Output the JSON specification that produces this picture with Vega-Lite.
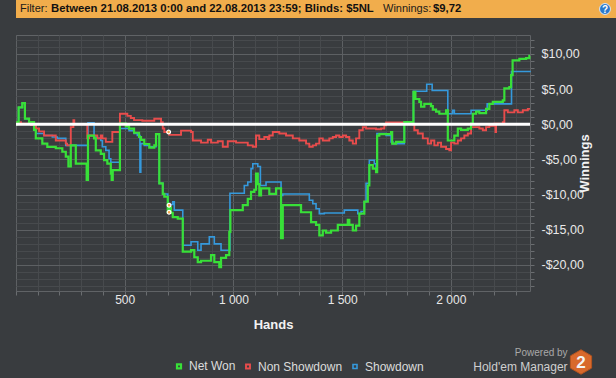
{
  "$schema": "https://vega.github.io/schema/vega-lite/v6.json",
  "background": "#393c3f",
  "padding": {"left": 0, "top": 0, "right": 0, "bottom": 8},
  "config": {
    "font": "Liberation Sans",
    "view": {"stroke": "#606366", "strokeWidth": 1},
    "axis": {"labelOverlap": false}
  },
  "datasets": {
    "hands": [
      {"h":0,"v":0,"s":"Showdown"},{"h":6,"v":0.3,"s":"Showdown"},{"h":12,"v":2.4,"s":"Showdown"},{"h":29,"v":3.0,"s":"Showdown"},{"h":41,"v":0.8,"s":"Showdown"},{"h":60,"v":0.3,"s":"Showdown"},{"h":83,"v":-0.4,"s":"Showdown"},{"h":91,"v":-1.3,"s":"Showdown"},{"h":129,"v":-1.6,"s":"Showdown"},{"h":167,"v":-1.8,"s":"Showdown"},{"h":190,"v":-2.0,"s":"Showdown"},{"h":229,"v":-3.0,"s":"Showdown"},{"h":331,"v":0.2,"s":"Showdown"},{"h":359,"v":-1.8,"s":"Showdown"},{"h":374,"v":-2.0,"s":"Showdown"},{"h":390,"v":-2.3,"s":"Showdown"},{"h":397,"v":-3.2,"s":"Showdown"},{"h":413,"v":-3.7,"s":"Showdown"},{"h":428,"v":-4.9,"s":"Showdown"},{"h":436,"v":-5.4,"s":"Showdown"},{"h":478,"v":-0.6,"s":"Showdown"},{"h":520,"v":-0.9,"s":"Showdown"},{"h":543,"v":-1.3,"s":"Showdown"},{"h":558,"v":-1.6,"s":"Showdown"},{"h":570,"v":-6.8,"s":"Showdown"},{"h":574,"v":-2.75,"s":"Showdown"},{"h":590,"v":-3.0,"s":"Showdown"},{"h":613,"v":-3.2,"s":"Showdown"},{"h":644,"v":-1.4,"s":"Showdown"},{"h":659,"v":-8.4,"s":"Showdown"},{"h":675,"v":-9.9,"s":"Showdown"},{"h":698,"v":-11.4,"s":"Showdown"},{"h":721,"v":-11.0,"s":"Showdown"},{"h":728,"v":-12.2,"s":"Showdown"},{"h":767,"v":-17.2,"s":"Showdown"},{"h":805,"v":-16.7,"s":"Showdown"},{"h":836,"v":-17.9,"s":"Showdown"},{"h":851,"v":-17.0,"s":"Showdown"},{"h":889,"v":-16.0,"s":"Showdown"},{"h":912,"v":-17.0,"s":"Showdown"},{"h":943,"v":-17.9,"s":"Showdown"},{"h":984,"v":-9.8,"s":"Showdown"},{"h":1050,"v":-8.7,"s":"Showdown"},{"h":1066,"v":-8.2,"s":"Showdown"},{"h":1081,"v":-6.3,"s":"Showdown"},{"h":1089,"v":-5.6,"s":"Showdown"},{"h":1112,"v":-6.0,"s":"Showdown"},{"h":1124,"v":-8.7,"s":"Showdown"},{"h":1150,"v":-8.2,"s":"Showdown"},{"h":1219,"v":-10.1,"s":"Showdown"},{"h":1227,"v":-9.9,"s":"Showdown"},{"h":1349,"v":-10.8,"s":"Showdown"},{"h":1365,"v":-11.3,"s":"Showdown"},{"h":1380,"v":-12.0,"s":"Showdown"},{"h":1395,"v":-12.7,"s":"Showdown"},{"h":1418,"v":-12.6,"s":"Showdown"},{"h":1510,"v":-12.2,"s":"Showdown"},{"h":1572,"v":-12.7,"s":"Showdown"},{"h":1587,"v":-12.4,"s":"Showdown"},{"h":1602,"v":-11.0,"s":"Showdown"},{"h":1610,"v":-8.4,"s":"Showdown"},{"h":1625,"v":-5.1,"s":"Showdown"},{"h":1648,"v":-5.6,"s":"Showdown"},{"h":1656,"v":-6.3,"s":"Showdown"},{"h":1660,"v":-1.3,"s":"Showdown"},{"h":1702,"v":-1.6,"s":"Showdown"},{"h":1725,"v":-2.5,"s":"Showdown"},{"h":1733,"v":-2.75,"s":"Showdown"},{"h":1786,"v":0.3,"s":"Showdown"},{"h":1828,"v":4.7,"s":"Showdown"},{"h":1889,"v":5.7,"s":"Showdown"},{"h":1914,"v":4.8,"s":"Showdown"},{"h":1986,"v":1.5,"s":"Showdown"},{"h":2008,"v":2.0,"s":"Showdown"},{"h":2016,"v":1.5,"s":"Showdown"},{"h":2093,"v":2.0,"s":"Showdown"},{"h":2167,"v":2.9,"s":"Showdown"},{"h":2279,"v":7.5,"s":"Showdown"},{"h":2364,"v":7.4,"s":"Showdown"},

      {"h":0,"v":0,"s":"Non Showdown"},{"h":5,"v":0.3,"s":"Non Showdown"},{"h":23,"v":0.1,"s":"Non Showdown"},{"h":69,"v":-0.1,"s":"Non Showdown"},{"h":92,"v":-0.6,"s":"Non Showdown"},{"h":106,"v":-1.0,"s":"Non Showdown"},{"h":129,"v":-1.6,"s":"Non Showdown"},{"h":183,"v":-2.3,"s":"Non Showdown"},{"h":229,"v":-2.75,"s":"Non Showdown"},{"h":235,"v":-3.0,"s":"Non Showdown"},{"h":252,"v":-0.4,"s":"Non Showdown"},{"h":264,"v":0.6,"s":"Non Showdown"},{"h":268,"v":0.0,"s":"Non Showdown"},{"h":328,"v":-2.0,"s":"Non Showdown"},{"h":336,"v":-1.6,"s":"Non Showdown"},{"h":374,"v":-2.0,"s":"Non Showdown"},{"h":390,"v":-1.6,"s":"Non Showdown"},{"h":397,"v":-2.0,"s":"Non Showdown"},{"h":413,"v":-2.5,"s":"Non Showdown"},{"h":443,"v":-1.1,"s":"Non Showdown"},{"h":478,"v":1.5,"s":"Non Showdown"},{"h":512,"v":1.2,"s":"Non Showdown"},{"h":528,"v":0.9,"s":"Non Showdown"},{"h":543,"v":0.6,"s":"Non Showdown"},{"h":581,"v":0.5,"s":"Non Showdown"},{"h":636,"v":0.8,"s":"Non Showdown"},{"h":667,"v":0.3,"s":"Non Showdown"},{"h":675,"v":-0.6,"s":"Non Showdown"},{"h":682,"v":-1.1,"s":"Non Showdown"},{"h":705,"v":-1.5,"s":"Non Showdown"},{"h":759,"v":-0.9,"s":"Non Showdown"},{"h":805,"v":-1.1,"s":"Non Showdown"},{"h":813,"v":-2.3,"s":"Non Showdown"},{"h":851,"v":-2.6,"s":"Non Showdown"},{"h":882,"v":-2.2,"s":"Non Showdown"},{"h":897,"v":-2.6,"s":"Non Showdown"},{"h":928,"v":-2.4,"s":"Non Showdown"},{"h":951,"v":-3.2,"s":"Non Showdown"},{"h":974,"v":-2.4,"s":"Non Showdown"},{"h":1012,"v":-2.6,"s":"Non Showdown"},{"h":1066,"v":-3.0,"s":"Non Showdown"},{"h":1089,"v":-3.2,"s":"Non Showdown"},{"h":1104,"v":-1.6,"s":"Non Showdown"},{"h":1119,"v":-2.1,"s":"Non Showdown"},{"h":1142,"v":-1.8,"s":"Non Showdown"},{"h":1158,"v":-2.1,"s":"Non Showdown"},{"h":1165,"v":-1.6,"s":"Non Showdown"},{"h":1181,"v":-1.1,"s":"Non Showdown"},{"h":1211,"v":-1.3,"s":"Non Showdown"},{"h":1242,"v":-1.6,"s":"Non Showdown"},{"h":1273,"v":-2.0,"s":"Non Showdown"},{"h":1303,"v":-2.3,"s":"Non Showdown"},{"h":1334,"v":-2.75,"s":"Non Showdown"},{"h":1349,"v":-3.2,"s":"Non Showdown"},{"h":1365,"v":-3.0,"s":"Non Showdown"},{"h":1380,"v":-2.75,"s":"Non Showdown"},{"h":1395,"v":-2.0,"s":"Non Showdown"},{"h":1411,"v":-2.3,"s":"Non Showdown"},{"h":1441,"v":-2.0,"s":"Non Showdown"},{"h":1457,"v":-1.8,"s":"Non Showdown"},{"h":1472,"v":-1.6,"s":"Non Showdown"},{"h":1487,"v":-1.8,"s":"Non Showdown"},{"h":1503,"v":-1.6,"s":"Non Showdown"},{"h":1518,"v":-1.8,"s":"Non Showdown"},{"h":1533,"v":-2.3,"s":"Non Showdown"},{"h":1549,"v":-2.75,"s":"Non Showdown"},{"h":1564,"v":-2.0,"s":"Non Showdown"},{"h":1579,"v":-0.85,"s":"Non Showdown"},{"h":1595,"v":-0.4,"s":"Non Showdown"},{"h":1610,"v":-0.6,"s":"Non Showdown"},{"h":1656,"v":-0.7,"s":"Non Showdown"},{"h":1679,"v":-0.6,"s":"Non Showdown"},{"h":1694,"v":-0.15,"s":"Non Showdown"},{"h":1702,"v":0.25,"s":"Non Showdown"},{"h":1825,"v":0.0,"s":"Non Showdown"},{"h":1832,"v":-0.85,"s":"Non Showdown"},{"h":1848,"v":-1.3,"s":"Non Showdown"},{"h":1871,"v":-2.0,"s":"Non Showdown"},{"h":1894,"v":-2.75,"s":"Non Showdown"},{"h":1909,"v":-2.3,"s":"Non Showdown"},{"h":1924,"v":-3.0,"s":"Non Showdown"},{"h":1940,"v":-2.6,"s":"Non Showdown"},{"h":1955,"v":-3.2,"s":"Non Showdown"},{"h":1978,"v":-3.5,"s":"Non Showdown"},{"h":1993,"v":-3.7,"s":"Non Showdown"},{"h":2001,"v":-2.6,"s":"Non Showdown"},{"h":2016,"v":-2.75,"s":"Non Showdown"},{"h":2032,"v":-2.3,"s":"Non Showdown"},{"h":2047,"v":-2.0,"s":"Non Showdown"},{"h":2062,"v":-1.6,"s":"Non Showdown"},{"h":2078,"v":-1.3,"s":"Non Showdown"},{"h":2093,"v":-0.4,"s":"Non Showdown"},{"h":2131,"v":-0.6,"s":"Non Showdown"},{"h":2147,"v":-0.85,"s":"Non Showdown"},{"h":2162,"v":-0.4,"s":"Non Showdown"},{"h":2177,"v":-0.2,"s":"Non Showdown"},{"h":2200,"v":0.1,"s":"Non Showdown"},{"h":2205,"v":-1.1,"s":"Non Showdown"},{"h":2208,"v":0.1,"s":"Non Showdown"},{"h":2239,"v":0.3,"s":"Non Showdown"},{"h":2246,"v":2.0,"s":"Non Showdown"},{"h":2262,"v":1.7,"s":"Non Showdown"},{"h":2292,"v":2.0,"s":"Non Showdown"},{"h":2308,"v":1.7,"s":"Non Showdown"},{"h":2331,"v":2.0,"s":"Non Showdown"},{"h":2354,"v":2.2,"s":"Non Showdown"},{"h":2364,"v":2.2,"s":"Non Showdown"},

      {"h":0,"v":0,"s":"Net Won"},{"h":6,"v":0.3,"s":"Net Won"},{"h":12,"v":2.4,"s":"Net Won"},{"h":29,"v":3.0,"s":"Net Won"},{"h":41,"v":0.8,"s":"Net Won"},{"h":60,"v":0.3,"s":"Net Won"},{"h":83,"v":-0.8,"s":"Net Won"},{"h":91,"v":-2.0,"s":"Net Won"},{"h":121,"v":-2.75,"s":"Net Won"},{"h":144,"v":-3.2,"s":"Net Won"},{"h":183,"v":-3.4,"s":"Net Won"},{"h":213,"v":-3.9,"s":"Net Won"},{"h":229,"v":-4.6,"s":"Net Won"},{"h":241,"v":-6.0,"s":"Net Won"},{"h":252,"v":-3.0,"s":"Net Won"},{"h":275,"v":-5.6,"s":"Net Won"},{"h":325,"v":-7.9,"s":"Net Won"},{"h":331,"v":-1.6,"s":"Net Won"},{"h":359,"v":-2.0,"s":"Net Won"},{"h":367,"v":-3.7,"s":"Net Won"},{"h":390,"v":-4.2,"s":"Net Won"},{"h":405,"v":-5.1,"s":"Net Won"},{"h":420,"v":-5.6,"s":"Net Won"},{"h":436,"v":-7.0,"s":"Net Won"},{"h":440,"v":-7.9,"s":"Net Won"},{"h":445,"v":-6.5,"s":"Net Won"},{"h":478,"v":0.1,"s":"Net Won"},{"h":505,"v":-0.3,"s":"Net Won"},{"h":520,"v":-0.6,"s":"Net Won"},{"h":543,"v":-1.2,"s":"Net Won"},{"h":566,"v":-1.8,"s":"Net Won"},{"h":575,"v":-2.2,"s":"Net Won"},{"h":590,"v":-2.8,"s":"Net Won"},{"h":613,"v":-3.3,"s":"Net Won"},{"h":636,"v":-3.0,"s":"Net Won"},{"h":644,"v":-1.4,"s":"Net Won"},{"h":659,"v":-8.4,"s":"Net Won"},{"h":675,"v":-9.9,"s":"Net Won"},{"h":682,"v":-10.3,"s":"Net Won"},{"h":698,"v":-12.5,"s":"Net Won"},{"h":705,"v":-11.8,"s":"Net Won"},{"h":713,"v":-12.6,"s":"Net Won"},{"h":721,"v":-13.2,"s":"Net Won"},{"h":744,"v":-13.4,"s":"Net Won"},{"h":767,"v":-18.1,"s":"Net Won"},{"h":805,"v":-17.9,"s":"Net Won"},{"h":820,"v":-18.9,"s":"Net Won"},{"h":836,"v":-19.6,"s":"Net Won"},{"h":851,"v":-19.4,"s":"Net Won"},{"h":897,"v":-18.6,"s":"Net Won"},{"h":912,"v":-19.6,"s":"Net Won"},{"h":935,"v":-20.3,"s":"Net Won"},{"h":943,"v":-19.0,"s":"Net Won"},{"h":966,"v":-18.6,"s":"Net Won"},{"h":981,"v":-15.3,"s":"Net Won"},{"h":986,"v":-12.2,"s":"Net Won"},{"h":1043,"v":-11.5,"s":"Net Won"},{"h":1066,"v":-10.6,"s":"Net Won"},{"h":1081,"v":-9.6,"s":"Net Won"},{"h":1096,"v":-9.3,"s":"Net Won"},{"h":1104,"v":-7.0,"s":"Net Won"},{"h":1112,"v":-8.5,"s":"Net Won"},{"h":1119,"v":-10.1,"s":"Net Won"},{"h":1127,"v":-9.1,"s":"Net Won"},{"h":1165,"v":-9.9,"s":"Net Won"},{"h":1196,"v":-9.1,"s":"Net Won"},{"h":1219,"v":-16.2,"s":"Net Won"},{"h":1227,"v":-11.5,"s":"Net Won"},{"h":1311,"v":-12.5,"s":"Net Won"},{"h":1357,"v":-13.9,"s":"Net Won"},{"h":1380,"v":-14.3,"s":"Net Won"},{"h":1395,"v":-15.8,"s":"Net Won"},{"h":1411,"v":-15.1,"s":"Net Won"},{"h":1426,"v":-15.4,"s":"Net Won"},{"h":1449,"v":-15.1,"s":"Net Won"},{"h":1480,"v":-14.3,"s":"Net Won"},{"h":1526,"v":-13.6,"s":"Net Won"},{"h":1533,"v":-14.3,"s":"Net Won"},{"h":1549,"v":-15.1,"s":"Net Won"},{"h":1564,"v":-14.4,"s":"Net Won"},{"h":1579,"v":-12.7,"s":"Net Won"},{"h":1602,"v":-11.0,"s":"Net Won"},{"h":1618,"v":-8.7,"s":"Net Won"},{"h":1625,"v":-5.8,"s":"Net Won"},{"h":1641,"v":-6.3,"s":"Net Won"},{"h":1656,"v":-6.8,"s":"Net Won"},{"h":1661,"v":-1.6,"s":"Net Won"},{"h":1671,"v":-1.4,"s":"Net Won"},{"h":1725,"v":-1.1,"s":"Net Won"},{"h":1730,"v":-2.75,"s":"Net Won"},{"h":1748,"v":-2.5,"s":"Net Won"},{"h":1786,"v":0.3,"s":"Net Won"},{"h":1828,"v":4.6,"s":"Net Won"},{"h":1837,"v":3.6,"s":"Net Won"},{"h":1855,"v":3.2,"s":"Net Won"},{"h":1863,"v":2.5,"s":"Net Won"},{"h":1878,"v":2.9,"s":"Net Won"},{"h":1909,"v":2.6,"s":"Net Won"},{"h":1917,"v":2.1,"s":"Net Won"},{"h":1932,"v":1.8,"s":"Net Won"},{"h":1947,"v":1.5,"s":"Net Won"},{"h":1978,"v":2.0,"s":"Net Won"},{"h":1986,"v":-2.3,"s":"Net Won"},{"h":2016,"v":-1.6,"s":"Net Won"},{"h":2032,"v":-0.6,"s":"Net Won"},{"h":2047,"v":-0.8,"s":"Net Won"},{"h":2078,"v":-0.6,"s":"Net Won"},{"h":2093,"v":0.1,"s":"Net Won"},{"h":2101,"v":1.5,"s":"Net Won"},{"h":2116,"v":1.8,"s":"Net Won"},{"h":2131,"v":1.6,"s":"Net Won"},{"h":2162,"v":2.2,"s":"Net Won"},{"h":2177,"v":2.9,"s":"Net Won"},{"h":2193,"v":3.2,"s":"Net Won"},{"h":2239,"v":3.4,"s":"Net Won"},{"h":2246,"v":5.1,"s":"Net Won"},{"h":2269,"v":5.3,"s":"Net Won"},{"h":2277,"v":7.0,"s":"Net Won"},{"h":2284,"v":9.1,"s":"Net Won"},{"h":2315,"v":9.3,"s":"Net Won"},{"h":2346,"v":9.4,"s":"Net Won"},{"h":2361,"v":9.72,"s":"Net Won"},{"h":2364,"v":9.72,"s":"Net Won"}
    ],
    "markers": [
      {"h":702,"v":-1.1},{"h":704,"v":-11.5},{"h":704,"v":-12.5}
    ]
  },
  "concat": [
    {
      "width": 616,
      "height": 18,
      "view": {"fill": "#f1ad4c", "stroke": null},
      "data": {"values": [{"a": "Filter:", "b": "Between 21.08.2013 0:00 and 22.08.2013 23:59; Blinds: $5NL", "c": "Winnings:", "d": "$9,72", "q": "?"}]},
      "layer": [
        {"mark": {"type": "text", "align": "left", "baseline": "middle", "fontSize": 11, "color": "#1a1a1a", "x": 4, "y": 9}, "encoding": {"text": {"field": "a"}}},
        {"mark": {"type": "text", "align": "left", "baseline": "middle", "fontSize": 11.3, "fontWeight": "bold", "color": "#111111", "x": 35, "y": 9}, "encoding": {"text": {"field": "b"}}},
        {"mark": {"type": "text", "align": "left", "baseline": "middle", "fontSize": 11, "color": "#1a1a1a", "x": 367, "y": 9}, "encoding": {"text": {"field": "c"}}},
        {"mark": {"type": "text", "align": "left", "baseline": "middle", "fontSize": 11.3, "fontWeight": "bold", "color": "#111111", "x": 417, "y": 9}, "encoding": {"text": {"field": "d"}}},
        {"mark": {"type": "point", "shape": "circle", "filled": true, "size": 120, "fill": "#2b79c9", "stroke": "#d6e4f4", "strokeWidth": 1, "opacity": 1, "x": 589, "y": 9}},
        {"mark": {"type": "text", "align": "center", "baseline": "middle", "fontSize": 10, "fontWeight": "bold", "color": "#ffffff", "x": 589, "y": 9.5}, "encoding": {"text": {"field": "q"}}}
      ]
    },
    {
      "width": 514,
      "height": 256,
      "title": {
        "text": "Powered by",
        "subtitle": "Hold'em Manager",
        "orient": "bottom",
        "anchor": "end",
        "frame": "bounds",
        "fontSize": 10,
        "fontWeight": "normal",
        "color": "#a9a9a9",
        "subtitleFontSize": 12,
        "subtitleColor": "#cfcfcf",
        "subtitlePadding": 4,
        "offset": -28,
        "dx": -26
      },
      "layer": [
        {
          "data": {"name": "hands"},
          "mark": {"type": "line", "interpolate": "step-after"},
          "encoding": {
            "x": {
              "field": "h", "type": "quantitative",
              "scale": {"domain": [0, 2364], "nice": false, "zero": false},
              "axis": {
                "orient": "bottom",
                "values": [0,100,200,300,400,500,600,700,800,900,1000,1100,1200,1300,1400,1500,1600,1700,1800,1900,2000,2100,2200,2300],
                "grid": true,
                "gridColor": {"condition": {"test": "datum.value % 500 === 0", "value": "#5d6063"}, "value": "#474a4d"},
                "domain": false,
                "ticks": true, "tickSize": 4, "tickColor": "#6a6d70",
                "labelExpr": "datum.value % 500 === 0 && datum.value > 0 ? replace(format(datum.value, ','), ',', ' ') : ''",
                "labelColor": "#e8e8e8", "labelFontSize": 12, "labelPadding": -1, "labelOverlap": false, "labelFlush": false,
                "title": "Hands", "titleColor": "#f2f2f2", "titleFontSize": 13, "titleFontWeight": "bold", "titlePadding": 13
              }
            },
            "y": {
              "field": "v", "type": "quantitative",
              "scale": {"domain": [-23.7, 12.7], "nice": false, "zero": false},
              "axis": {
                "orient": "right",
                "values": [-23,-22,-21,-20,-19,-18,-17,-16,-15,-14,-13,-12,-11,-10,-9,-8,-7,-6,-5,-4,-3,-2,-1,0,1,2,3,4,5,6,7,8,9,10,11,12],
                "grid": true,
                "gridColor": {"condition": {"test": "datum.value % 5 === 0", "value": "#5d6063"}, "value": "#474a4d"},
                "domain": false,
                "ticks": true, "tickSize": 4, "tickColor": "#6a6d70",
                "labelExpr": "datum.value % 5 === 0 ? (datum.value < 0 ? '-' : '') + '$' + replace(format(abs(datum.value), '.2f'), '.', ',') : ''",
                "labelColor": "#e8e8e8", "labelFontSize": 12.5, "labelPadding": 7, "labelOverlap": false, "labelFlush": false,
                "title": "Winnings", "titleColor": "#f2f2f2", "titleFontSize": 13, "titleFontWeight": "bold", "titleAngle": -90, "titlePadding": 8
              }
            },
            "color": {
              "field": "s", "type": "nominal",
              "scale": {"domain": ["Net Won", "Non Showdown", "Showdown"], "range": ["#38e038", "#e84c4c", "#3599dc"]},
              "legend": {
                "orient": "none", "legendX": 157, "legendY": 360, "direction": "horizontal", "title": null,
                "symbolType": "square", "symbolSize": 16, "symbolStrokeWidth": 4,
                "labelFontSize": 12, "labelColor": "#dcdcdc", "labelOffset": 4,
                "columnPadding": 6, "padding": 0
              }
            },
            "strokeWidth": {
              "field": "s", "type": "nominal",
              "scale": {"domain": ["Net Won", "Non Showdown", "Showdown"], "range": [2.2, 1.6, 1.6]},
              "legend": null
            }
          }
        },
        {
          "data": {"values": [{}]},
          "mark": {"type": "rule", "color": "#ffffff", "strokeWidth": 3},
          "encoding": {
            "y": {
              "datum": 0, "type": "quantitative",
              "axis": {"orient": "left", "values": [0], "labels": false, "domain": false, "grid": false, "ticks": true, "tickSize": 15, "tickOpacity": 0, "title": null, "minExtent": 15, "maxExtent": 15}
            }
          }
        },
        {
          "data": {"name": "markers"},
          "mark": {"type": "point", "filled": true, "shape": "circle", "size": 14, "color": "#f6a84a", "stroke": "#ffffff", "strokeWidth": 1.2, "opacity": 1},
          "encoding": {
            "x": {"field": "h", "type": "quantitative", "axis": null},
            "y": {"field": "v", "type": "quantitative", "axis": null}
          }
        },
        {
          "data": {"values": [{"logo": "2"}]},
          "mark": {"type": "point", "filled": true, "shape": "M0,-1L0.866,-0.5L0.866,0.5L0,1L-0.866,0.5L-0.866,-0.5Z", "size": 600, "fill": "#d8692c", "stroke": "#b5541f", "strokeWidth": 1, "opacity": 1, "x": 565, "y": 327}
        },
        {
          "data": {"values": [{"logo": "2"}]},
          "mark": {"type": "text", "align": "center", "baseline": "middle", "fontSize": 17, "fontWeight": "bold", "color": "#f4f4f4", "x": 565, "y": 328},
          "encoding": {"text": {"field": "logo"}}
        }
      ],
      "resolve": {"axis": {"x": "independent", "y": "independent"}}
    }
  ],
  "columns": 1,
  "align": "none",
  "spacing": 15
}
